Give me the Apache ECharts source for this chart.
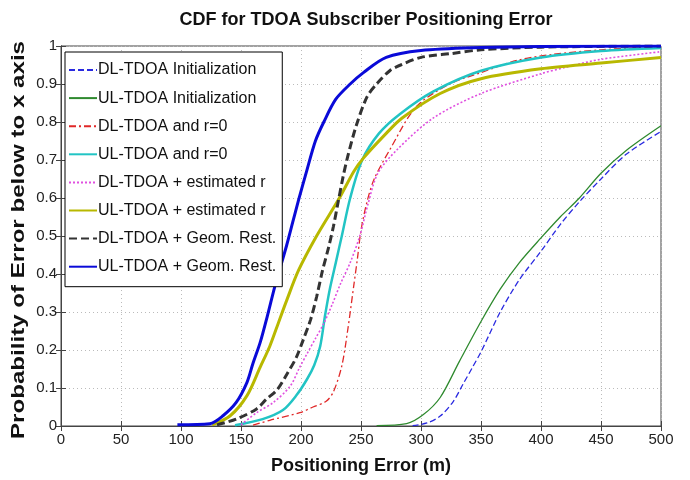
<!DOCTYPE html>
<html>
<head>
<meta charset="utf-8">
<script src="https://cdn.jsdelivr.net/npm/echarts@6/dist/echarts.min.js"></script>
<style>
  html, body { margin: 0; padding: 0; background: #fff; }
  #chart { width: 690px; height: 480px; }
</style>
</head>
<body>
<div id="chart"></div>
<script>
// curves, [error in m, probability]
var seriesNames = [
    'DL-TDOA Initialization',
    'UL-TDOA Initialization',
    'DL-TDOA and r=0',
    'UL-TDOA and r=0',
    'DL-TDOA + estimated r',
    'UL-TDOA + estimated r',
    'DL-TDOA + Geom. Rest.',
    'UL-TDOA + Geom. Rest.'
];

var dlInit = [[293,0.001],[305,0.008],[316,0.026],[327,0.065],[335,0.11],[343,0.155],[350,0.195],[366,0.3],[382,0.385],[400,0.46],[416,0.53],[432,0.59],[450,0.65],[471,0.715],[500,0.775]];
var ulInit = [[263,0.001],[288,0.006],[302,0.03],[316,0.075],[332,0.17],[350,0.275],[366,0.36],[382,0.43],[400,0.495],[416,0.55],[432,0.6],[450,0.665],[471,0.725],[500,0.79]];
var dlR0 = [[160,0.002],[174,0.015],[199,0.035],[210,0.05],[221,0.065],[227,0.09],[234,0.158],[239,0.254],[244,0.37],[247,0.44],[250,0.515],[255,0.59],[261,0.65],[274,0.727],[296,0.84],[324,0.9],[350,0.93],[380,0.962],[410,0.978],[450,0.99],[500,0.998]];
var ulR0 = [[145,0.002],[168,0.018],[185,0.042],[196,0.08],[205,0.123],[211,0.16],[216,0.21],[220,0.29],[224,0.36],[229,0.43],[234,0.5],[241,0.6],[251,0.7],[265,0.77],[282,0.82],[310,0.88],[350,0.935],[400,0.97],[450,0.987],[500,0.995]];
var dlEstR = [[150,0.003],[163,0.035],[177,0.062],[191,0.105],[199,0.155],[205,0.19],[212,0.23],[219,0.27],[226,0.32],[233,0.375],[241,0.43],[249,0.5],[256,0.586],[264,0.665],[280,0.727],[310,0.81],[350,0.875],[400,0.927],[422,0.945],[450,0.965],[500,0.985]];
var ulEstR = [[126,0.003],[141,0.027],[155,0.08],[166,0.155],[174,0.21],[181,0.27],[188,0.33],[198,0.41],[213,0.5],[232,0.6],[244,0.67],[252,0.705],[271,0.77],[284,0.81],[316,0.875],[350,0.914],[400,0.94],[450,0.955],[500,0.97]];
var dlGeom = [[130,0.003],[146,0.018],[163,0.045],[171,0.07],[180,0.095],[188,0.135],[196,0.18],[202,0.228],[208,0.28],[213,0.34],[218,0.41],[223,0.47],[227,0.525],[231,0.59],[235,0.655],[239,0.71],[246,0.79],[255,0.866],[263,0.9],[274,0.935],[283,0.95],[300,0.97],[325,0.98],[350,0.99],[400,0.997],[500,1]];
var ulGeom = [[97,0.003],[124,0.006],[135,0.027],[146,0.062],[155,0.115],[160,0.165],[166,0.22],[172,0.29],[178,0.365],[183,0.42],[188,0.475],[193,0.535],[198,0.595],[205,0.674],[212,0.75],[219,0.8],[229,0.86],[241,0.9],[252,0.93],[271,0.97],[300,0.988],[350,0.996],[400,0.999],[500,1]];

var curves = [dlInit, ulInit, dlR0, ulR0, dlEstR, ulEstR, dlGeom, ulGeom];
var colors = ['#2a2ae0', '#2f8a2f', '#e02828', '#22c4c4', '#e050e0', '#b8b800', '#333333', '#0a0ad8'];
var widths = [1.3, 1.3, 1.3, 2.5, 1.6, 3, 3, 3];
var dashes = [[6, 3], 'solid', [7, 3, 2, 3], 'solid', [2, 2], 'solid', [8, 4], 'solid'];

var font = "'Liberation Sans', Arial, sans-serif";

var chart = echarts.init(document.getElementById('chart'));

var series = curves.map(function (d, i) {
    return {
        name: seriesNames[i],
        type: 'line',
        data: d,
        showSymbol: false,
        symbol: 'none',
        smooth: 0.3,
        animation: false,
        lineStyle: { color: colors[i], width: widths[i], type: dashes[i] },
        itemStyle: { color: colors[i] }
    };
});

chart.setOption({
    backgroundColor: '#fff',
    title: {
        text: 'CDF for TDOA Subscriber Positioning Error',
        left: 361,
        textAlign: 'center',
        top: 6,
        textStyle: { fontFamily: font, fontSize: 18, fontWeight: 'bold', color: '#111' }
    },
    legend: {
        orient: 'vertical',
        left: 65,
        top: 52,
        data: seriesNames,
        backgroundColor: '#fff',
        borderColor: '#000',
        borderWidth: 1,
        borderRadius: 0,
        padding: [10, 6, 12, 3],
        itemWidth: 28,
        itemHeight: 14,
        itemGap: 12.1,
        itemStyle: { opacity: 0 },
        textStyle: { fontFamily: font, fontSize: 16, color: '#111', padding: [0, 0, 0, -4] }
    },
    grid: {
        left: 61, right: 29, top: 46, bottom: 53,
        show: true, borderColor: '#444', borderWidth: 1
    },
    graphic: [{
        type: 'text',
        x: 19,
        y: 240,
        rotation: Math.PI / 2,
        scaleX: 1.34,
        style: {
            text: 'Probability of Error below to x axis',
            font: "bold 18px 'Liberation Sans', Arial, sans-serif",
            fill: '#111',
            align: 'center',
            verticalAlign: 'middle'
        }
    }],
    xAxis: [{
        type: 'value',
        min: 0, max: 500, interval: 50,
        name: 'Positioning Error (m)',
        nameLocation: 'middle',
        nameGap: 31,
        nameTextStyle: { fontFamily: font, fontSize: 18, fontWeight: 'bold', color: '#111' },
        axisLine: { show: true, onZero: false, lineStyle: { color: '#444' } },
        axisTick: { show: true, inside: true, length: 5, lineStyle: { color: '#444' } },
        axisLabel: { fontFamily: font, fontSize: 15, color: '#222', margin: 6 },
        splitLine: { show: true, lineStyle: { color: '#bbb', type: [1, 3] } }
    }, {
        type: 'value', position: 'top',
        min: 0, max: 500, interval: 50,
        axisLine: { show: true, lineStyle: { color: '#444' } },
        axisTick: { show: true, inside: true, length: 5, lineStyle: { color: '#444' } },
        axisLabel: { show: false },
        splitLine: { show: false }
    }],
    yAxis: [{
        type: 'value',
        min: 0, max: 1, interval: 0.1,
        axisLine: { show: true, onZero: false, lineStyle: { color: '#444' } },
        axisTick: { show: true, inside: true, length: 5, lineStyle: { color: '#444' } },
        axisLabel: { fontFamily: font, fontSize: 15, color: '#222', margin: 4 },
        splitLine: { show: true, lineStyle: { color: '#bbb', type: [1, 3] } }
    }, {
        type: 'value', position: 'right',
        min: 0, max: 1, interval: 0.1,
        axisLine: { show: true, lineStyle: { color: '#444' } },
        axisTick: { show: true, inside: true, length: 5, lineStyle: { color: '#444' } },
        axisLabel: { show: false },
        splitLine: { show: false }
    }],
    series: series
});

window.addEventListener('resize', function () {
    chart.resize();
});
</script>
</body>
</html>
